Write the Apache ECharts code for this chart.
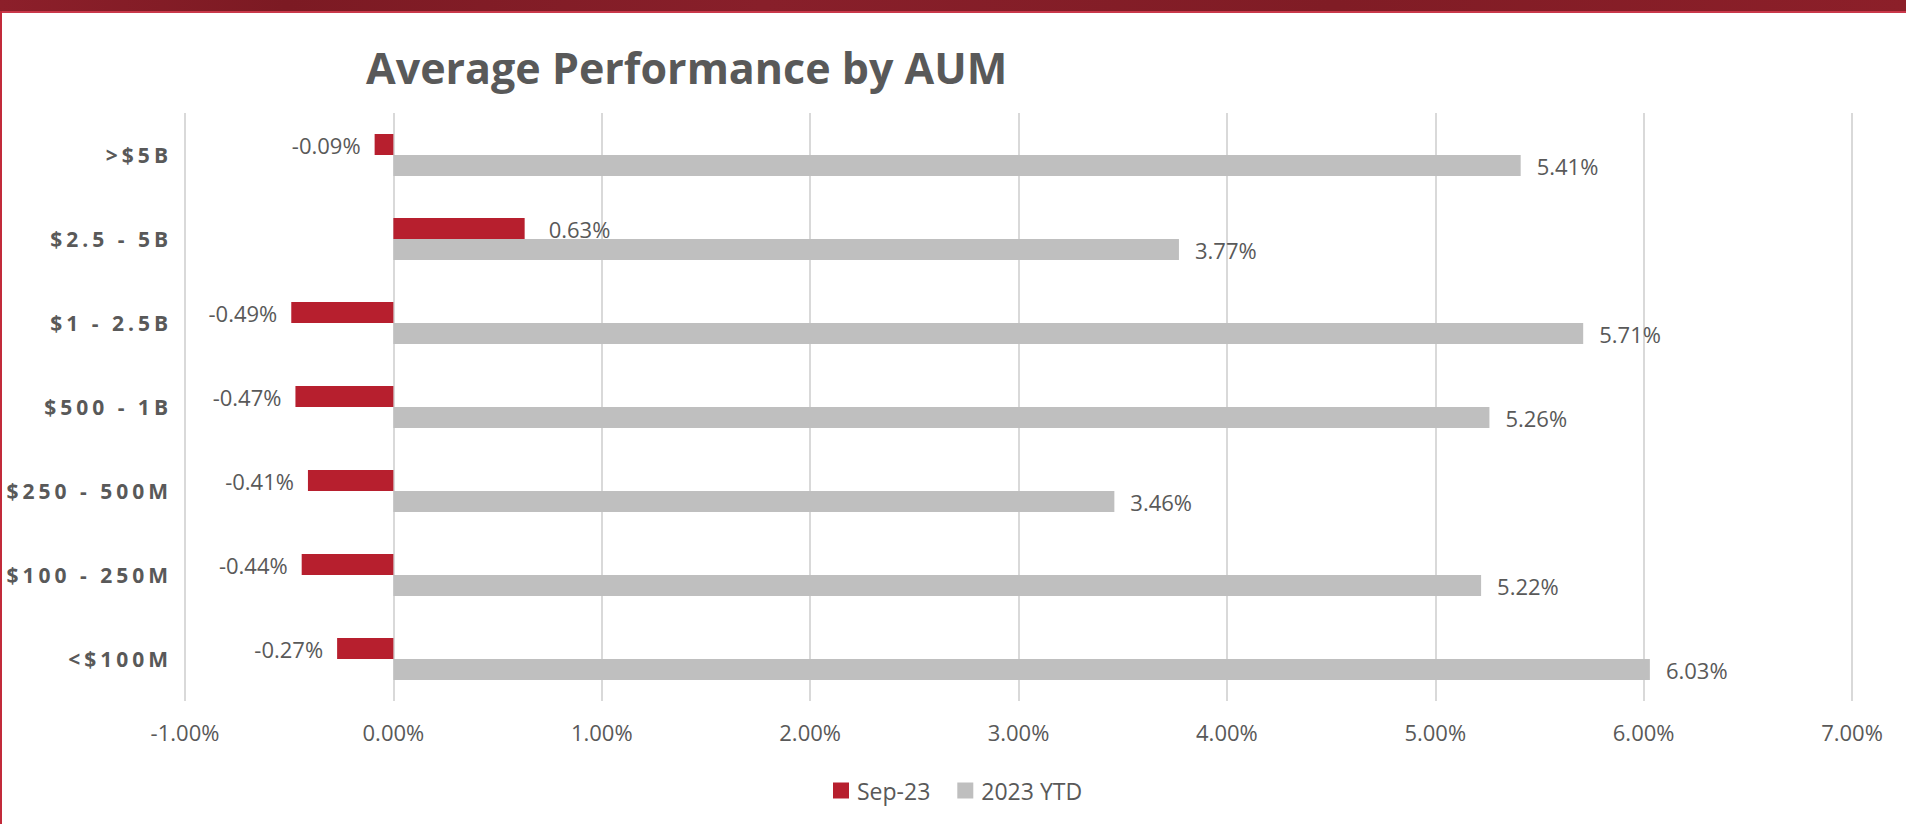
<!DOCTYPE html>
<html>
<head>
<meta charset="utf-8">
<script src="https://cdn.jsdelivr.net/npm/echarts@6/dist/echarts.min.js"></script>
<style>
html,body{margin:0;padding:0;background:#fff;}
#chart{width:1906px;height:824px;}
</style>
</head>
<body>
<div id="chart"></div>
<script>
const categories = ['>$5B', '$2.5 - 5B', '$1 - 2.5B', '$500 - 1B', '$250 - 500M', '$100 - 250M', '<$100M'];
const sep23 = [-0.09, 0.63, -0.49, -0.47, -0.41, -0.44, -0.27];
const ytd2023 = [5.41, 3.77, 5.71, 5.26, 3.46, 5.22, 6.03];
const xTicks = { min: -1, max: 7, interval: 1 };
const seriesNames = ['Sep-23', '2023 YTD'];

const chart = echarts.init(document.getElementById('chart'), null, { renderer: 'svg' });
const textGrey = '#595959';
const fontFam = '"Open Sans", "Noto Sans", sans-serif';
const fmt = v => v.toFixed(2) + '%';

chart.setOption({
  animation: false,
  backgroundColor: '#ffffff',
  title: {
    text: 'Average Performance by AUM',
    left: 361,
    top: 41,
    textStyle: { fontFamily: fontFam, fontWeight: 'bold', fontSize: 43, color: textGrey }
  },
  graphic: [
    {
      type: 'rect', left: 0, top: 0,
      shape: { width: 1906, height: 11 },
      style: {
        fill: new echarts.graphic.LinearGradient(0, 0, 1, 0, [
          { offset: 0, color: '#8c1f2a' },
          { offset: 0.15, color: '#7c1a23' },
          { offset: 0.4, color: '#881f2a' },
          { offset: 0.7, color: '#801c25' },
          { offset: 1, color: '#8c1f29' }
        ])
      },
      z: 10
    },
    { type: 'rect', left: 0, top: 11, shape: { width: 1906, height: 2 }, style: { fill: '#c9384a' }, z: 10 },
    { type: 'rect', left: 0, top: 11, shape: { width: 2, height: 813 }, style: { fill: '#c22a3a' }, z: 10 }
  ],
  legend: {
    data: seriesNames,
    left: 828,
    top: 774,
    itemWidth: 16,
    itemHeight: 16,
    itemGap: 27,
    icon: 'rect',
    textStyle: { fontFamily: fontFam, fontSize: 23, color: textGrey, padding: [0, 0, 0, 3] }
  },
  grid: { left: 185, right: 54, top: 113, bottom: 123, containLabel: false },
  xAxis: {
    type: 'value',
    min: xTicks.min,
    max: xTicks.max,
    interval: xTicks.interval,
    axisLine: { show: false },
    axisTick: { show: false },
    splitLine: { show: true, lineStyle: { color: '#d9d9d9', width: 2 } },
    axisLabel: {
      formatter: v => v.toFixed(2) + '%',
      fontFamily: fontFam, fontSize: 22, color: textGrey, margin: 20
    }
  },
  yAxis: {
    type: 'category',
    data: categories,
    inverse: true,
    axisLine: { show: false },
    axisTick: { show: false },
    axisLabel: {
      fontFamily: fontFam, fontSize: 21, fontWeight: 'bold', color: textGrey, margin: 13
    }
  },
  series: [
    {
      name: seriesNames[0],
      type: 'bar',
      data: sep23.map(v => v < 0 ? { value: v, label: { position: 'left', distance: 14 } } : v),
      itemStyle: { color: '#b71f2e' },
      barGap: '0%',
      barCategoryGap: '50%',
      label: {
        show: true,
        position: 'right',
        distance: 24,
        formatter: p => fmt(p.value),
        fontFamily: fontFam, fontSize: 22, color: textGrey
      }
    },
    {
      name: seriesNames[1],
      type: 'bar',
      data: ytd2023,
      itemStyle: { color: '#bfbfbf' },
      barGap: '0%',
      barCategoryGap: '50%',
      label: {
        show: true,
        position: 'right',
        distance: 16,
        formatter: p => fmt(p.value),
        fontFamily: fontFam, fontSize: 22, color: textGrey
      }
    }
  ]
});

// letter-spaced category labels, as in the original
const catSet = new Set(categories);
document.querySelectorAll('#chart svg text').forEach(t => {
  if (catSet.has(t.textContent)) {
    t.setAttribute('letter-spacing', '4');
    t.style.letterSpacing = '4px';
  }
});
</script>
</body>
</html>
